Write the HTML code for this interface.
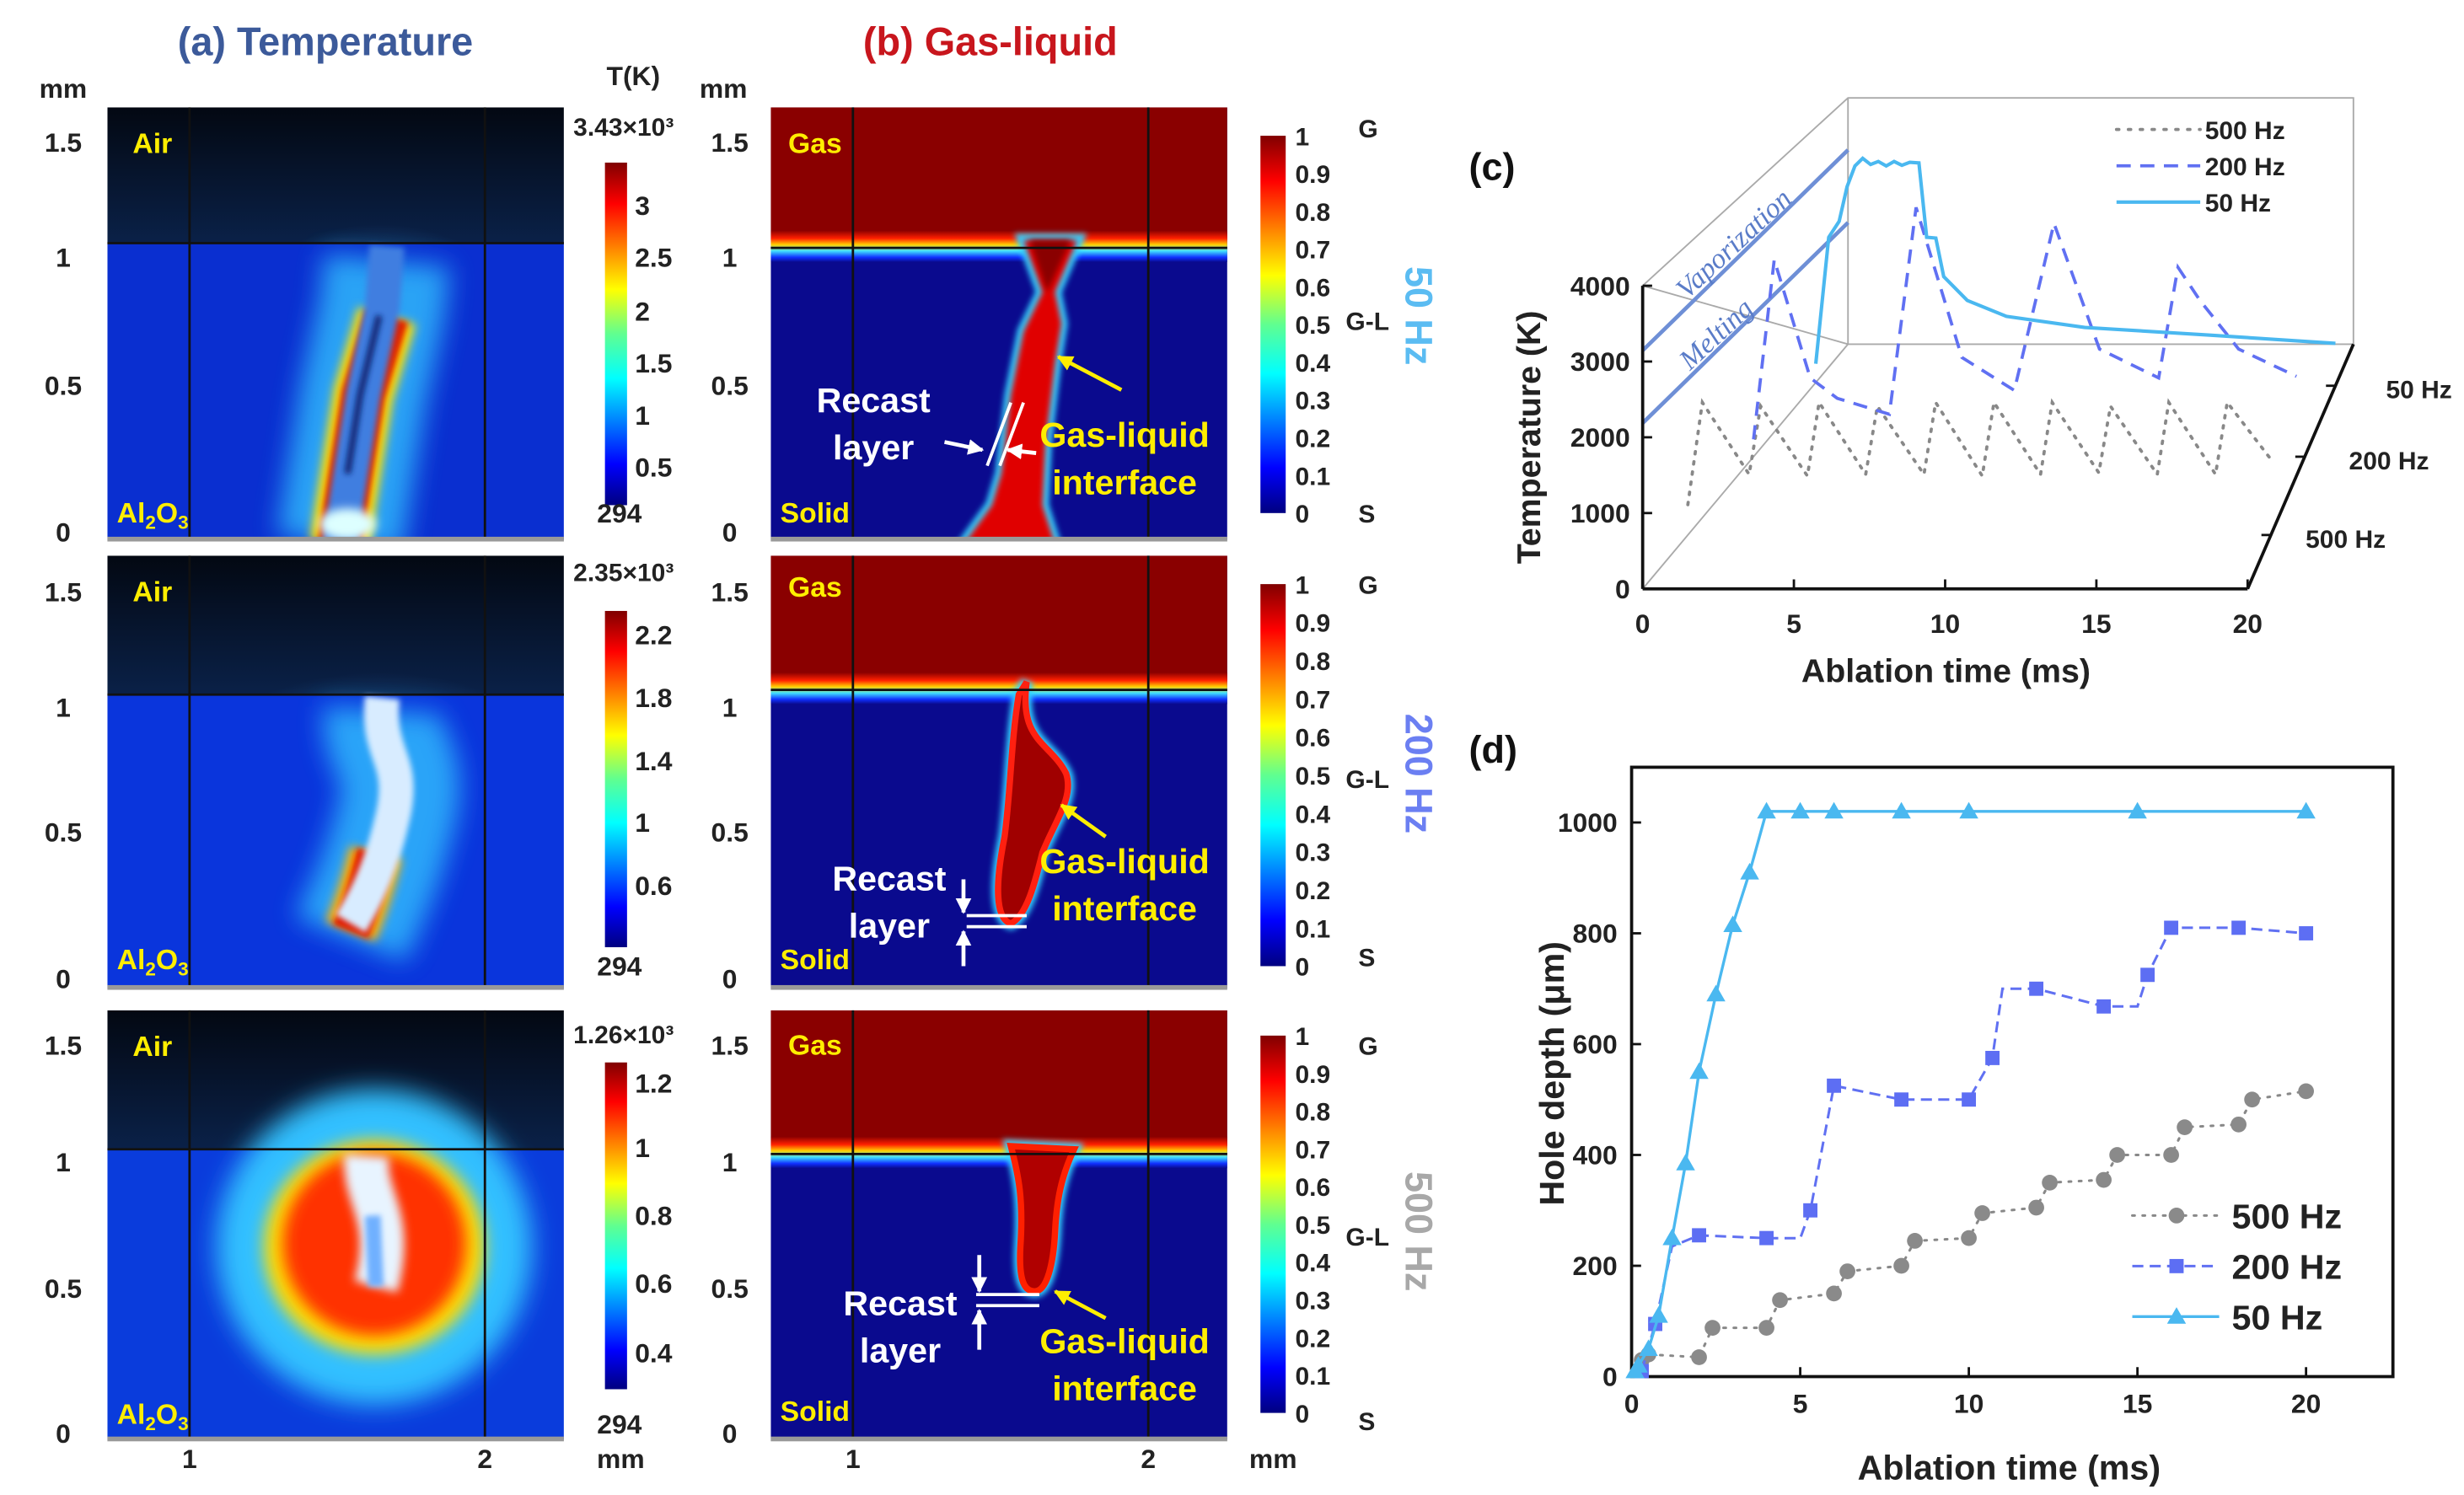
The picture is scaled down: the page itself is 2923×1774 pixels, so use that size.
<!DOCTYPE html>
<html><head><meta charset="utf-8"><style>
html,body{margin:0;padding:0;background:#fff;}
svg{display:block;font-family:"Liberation Sans",sans-serif;}
.b{font-weight:bold}
</style></head><body>
<svg id="fig" width="2923" height="1774" viewBox="0 0 1560 947" preserveAspectRatio="none" xmlns="http://www.w3.org/2000/svg">
<defs>
<linearGradient id="jet" x1="0" y1="0" x2="0" y2="1">
<stop offset="0" stop-color="#800000"/><stop offset="0.12" stop-color="#ff0000"/><stop offset="0.37" stop-color="#ffff00"/><stop offset="0.5" stop-color="#60ff90"/><stop offset="0.63" stop-color="#00ffff"/><stop offset="0.88" stop-color="#0000ff"/><stop offset="1" stop-color="#000080"/>
</linearGradient>
<linearGradient id="iface" x1="0" y1="0" x2="0" y2="1">
<stop offset="0" stop-color="#8a0000"/><stop offset="0.25" stop-color="#ff2000"/><stop offset="0.45" stop-color="#ffd000"/><stop offset="0.65" stop-color="#40e0ff"/><stop offset="0.85" stop-color="#1030ff"/><stop offset="1" stop-color="#0a0a8e"/>
</linearGradient>
<linearGradient id="air" x1="0" y1="0" x2="0" y2="1"><stop offset="0" stop-color="#030812"/><stop offset="1" stop-color="#0a2148"/></linearGradient>
<radialGradient id="airglow" cx="0.5" cy="1" r="0.6"><stop offset="0" stop-color="#3f8fd8" stop-opacity="0.8"/><stop offset="1" stop-color="#3f8fd8" stop-opacity="0"/></radialGradient>
<filter id="bl8" filterUnits="userSpaceOnUse" x="0" y="0" width="1560" height="947"><feGaussianBlur stdDeviation="8"/></filter>
<filter id="bl5" filterUnits="userSpaceOnUse" x="0" y="0" width="1560" height="947"><feGaussianBlur stdDeviation="5"/></filter>
<filter id="bl3" filterUnits="userSpaceOnUse" x="0" y="0" width="1560" height="947"><feGaussianBlur stdDeviation="3"/></filter>
<filter id="bl2" filterUnits="userSpaceOnUse" x="0" y="0" width="1560" height="947"><feGaussianBlur stdDeviation="1.8"/></filter>
<clipPath id="c1"><rect x="68" y="68" width="289" height="274"/></clipPath>
<clipPath id="c2"><rect x="68" y="352" width="289" height="274"/></clipPath>
<clipPath id="c3"><rect x="68" y="640" width="289" height="272"/></clipPath>
<clipPath id="g1"><rect x="488" y="68" width="289" height="274"/></clipPath>
<clipPath id="g2"><rect x="488" y="352" width="289" height="274"/></clipPath>
<clipPath id="g3"><rect x="488" y="640" width="289" height="272"/></clipPath>
<marker id="arw" viewBox="0 0 10 10" refX="9" refY="5" markerWidth="4" markerHeight="4" orient="auto"><path d="M0,0L10,5L0,10z" fill="#fff"/></marker>
<marker id="arwy" viewBox="0 0 10 10" refX="9" refY="5" markerWidth="4" markerHeight="4" orient="auto"><path d="M0,0L10,5L0,10z" fill="#ffee00"/></marker>
</defs>

<text x="206" y="35" text-anchor="middle" font-size="25" class="b" fill="#3c5a9a">(a) Temperature</text>
<text x="627" y="35" text-anchor="middle" font-size="25" class="b" fill="#c8161d">(b) Gas-liquid</text>

<!-- TEMPERATURE MAPS -->
<g clip-path="url(#c1)">
<rect x="68" y="68" width="289" height="86" fill="url(#air)"/>
<ellipse cx="240" cy="154" rx="80" ry="60" fill="url(#airglow)"/>
<rect x="68" y="154" width="289" height="190" fill="#0a2fd0"/>
<path d="M245,165 L242,195 L230,250 L222,300 L215,345" stroke="#30c0ff" stroke-width="80" fill="none" filter="url(#bl8)" opacity="0.8"/>
<path d="M245,200 L230,250 L222,300 L215,345" stroke="#ffe000" stroke-width="38" fill="none" filter="url(#bl3)"/>
<path d="M245,200 L230,250 L222,300 L215,345" stroke="#e02000" stroke-width="28" fill="none" filter="url(#bl2)"/>
<path d="M245,156 L242,195 L230,250 L222,300 L215,345" stroke="#3f7ee0" stroke-width="22" fill="none" filter="url(#bl2)"/>
<path d="M240,200 L228,250 L220,300" stroke="#102070" stroke-width="4" fill="none" filter="url(#bl2)"/>
<ellipse cx="220" cy="332" rx="18" ry="10" fill="#dff" filter="url(#bl3)"/>
</g>
<g clip-path="url(#c2)">
<rect x="68" y="352" width="289" height="88" fill="url(#air)"/>
<ellipse cx="240" cy="440" rx="110" ry="70" fill="url(#airglow)"/>
<rect x="68" y="440" width="289" height="190" fill="#0a35dc"/>
<path d="M242,450 C240,480 262,480 250,520 C240,560 228,580 222,595" stroke="#30c0ff" stroke-width="75" fill="none" filter="url(#bl8)" opacity="0.8"/>
<path d="M238,540 C232,565 226,580 222,590" stroke="#ffb000" stroke-width="34" fill="none" filter="url(#bl3)"/>
<path d="M238,540 C232,565 226,580 222,590" stroke="#e01800" stroke-width="24" fill="none" filter="url(#bl2)"/>
<path d="M242,442 C238,480 258,480 248,520 C240,555 228,575 222,585" stroke="#d8ecff" stroke-width="22" fill="none" filter="url(#bl2)"/>
</g>
<g clip-path="url(#c3)">
<rect x="68" y="640" width="289" height="88" fill="url(#air)"/>
<ellipse cx="240" cy="728" rx="120" ry="80" fill="url(#airglow)"/>
<rect x="68" y="728" width="289" height="190" fill="#0a3cdc"/>
<ellipse cx="237" cy="790" rx="100" ry="100" fill="#30c0ff" filter="url(#bl8)"/>
<ellipse cx="237" cy="790" rx="70" ry="68" fill="#ffe000" filter="url(#bl5)"/>
<ellipse cx="237" cy="788" rx="58" ry="58" fill="#ff3000" filter="url(#bl5)"/>
<path d="M232,732 C230,760 250,770 238,815" stroke="#e8f4ff" stroke-width="28" fill="none" filter="url(#bl3)"/>
<path d="M236,770 L238,815" stroke="#70b0ff" stroke-width="10" fill="none" filter="url(#bl2)"/>
</g>

<!-- GAS-LIQUID MAPS -->
<g clip-path="url(#g1)">
<rect x="488" y="68" width="289" height="290" fill="#0a0a8e"/>
<rect x="488" y="68" width="289" height="84" fill="#8a0000"/>
<rect x="488" y="146" width="289" height="20" fill="url(#iface)"/>
<path d="M648,152 L660,185 L648,210 L640,250 L634,300 L628,320 L610,345 L668,345 L660,320 L662,280 L668,230 L672,205 L668,185 L682,152 Z" fill="#e00000" stroke="#30d0ff" stroke-width="8" filter="url(#bl2)"/>
<path d="M648,152 L660,185 L648,210 L640,250 L634,300 L628,320 L610,345 L668,345 L660,320 L662,280 L668,230 L672,205 L668,185 L682,152 Z" fill="#e00000" filter="url(#bl2)"/>
<path d="M652,152 L663,185 L678,152 Z" fill="#8a0000" filter="url(#bl2)"/>
<line x1="640" y1="255" x2="625" y2="295" stroke="#fff" stroke-width="2"/>
<line x1="648" y1="255" x2="633" y2="295" stroke="#fff" stroke-width="2"/>
</g>
<g clip-path="url(#g2)">
<rect x="488" y="352" width="289" height="280" fill="#0a0a8e"/>
<rect x="488" y="352" width="289" height="80" fill="#8a0000"/>
<rect x="488" y="426" width="289" height="20" fill="url(#iface)"/>
<path d="M650,432 C645,470 665,470 675,490 C680,505 668,520 660,540 C655,560 650,580 640,585 C630,582 630,560 636,530 C640,500 640,470 645,440 Z" fill="#a00000" stroke="#30d0ff" stroke-width="8" filter="url(#bl2)"/>
<path d="M650,432 C645,470 665,470 675,490 C680,505 668,520 660,540 C655,560 650,580 640,585 C630,582 630,560 636,530 C640,500 640,470 645,440 Z" fill="#a00000" stroke="#ff2010" stroke-width="4"/>
</g>
<g clip-path="url(#g3)">
<rect x="488" y="640" width="289" height="280" fill="#0a0a8e"/>
<rect x="488" y="640" width="289" height="86" fill="#8a0000"/>
<rect x="488" y="720" width="289" height="20" fill="url(#iface)"/>
<path d="M640,726 C645,745 648,760 646,790 C645,810 648,818 655,818 C663,818 667,800 668,780 C669,760 672,745 680,728 Z" fill="#b00000" stroke="#30d0ff" stroke-width="8" filter="url(#bl2)"/>
<path d="M640,726 C645,745 648,760 646,790 C645,810 648,818 655,818 C663,818 667,800 668,780 C669,760 672,745 680,728 Z" fill="#b00000" stroke="#ff2000" stroke-width="4"/>
</g>

<g stroke="#111" stroke-width="1.5">
<line x1="120" y1="68" x2="120" y2="342"/><line x1="307" y1="68" x2="307" y2="342"/>
<line x1="120" y1="352" x2="120" y2="626"/><line x1="307" y1="352" x2="307" y2="626"/>
<line x1="120" y1="640" x2="120" y2="912"/><line x1="307" y1="640" x2="307" y2="912"/>
<line x1="540" y1="68" x2="540" y2="342"/><line x1="727" y1="68" x2="727" y2="342"/>
<line x1="540" y1="352" x2="540" y2="626"/><line x1="727" y1="352" x2="727" y2="626"/>
<line x1="540" y1="640" x2="540" y2="912"/><line x1="727" y1="640" x2="727" y2="912"/>
<line x1="68" y1="154" x2="357" y2="154"/><line x1="68" y1="440" x2="357" y2="440"/><line x1="68" y1="728" x2="357" y2="728"/>
<line x1="488" y1="157" x2="777" y2="157"/><line x1="488" y1="437" x2="777" y2="437"/><line x1="488" y1="731" x2="777" y2="731"/>
</g>
<g fill="#999">
<rect x="68" y="340" width="289" height="3"/><rect x="68" y="624" width="289" height="3"/><rect x="68" y="910" width="289" height="3"/>
<rect x="488" y="340" width="289" height="3"/><rect x="488" y="624" width="289" height="3"/><rect x="488" y="910" width="289" height="3"/>
</g>

<g font-size="18" class="b" fill="#ffee00">
<text x="84" y="97">Air</text><text x="84" y="381">Air</text><text x="84" y="669">Air</text>
<text x="74" y="331">Al<tspan font-size="12" dy="4">2</tspan><tspan dy="-4">O</tspan><tspan font-size="12" dy="4">3</tspan></text>
<text x="74" y="614">Al<tspan font-size="12" dy="4">2</tspan><tspan dy="-4">O</tspan><tspan font-size="12" dy="4">3</tspan></text>
<text x="74" y="902">Al<tspan font-size="12" dy="4">2</tspan><tspan dy="-4">O</tspan><tspan font-size="12" dy="4">3</tspan></text>
<text x="499" y="97">Gas</text><text x="499" y="378">Gas</text><text x="499" y="668">Gas</text>
<text x="494" y="331">Solid</text><text x="494" y="614">Solid</text><text x="494" y="900">Solid</text>
</g>

<!-- annotations -->
<g class="b" font-size="22">
<text x="553" y="261" text-anchor="middle" fill="#fff">Recast</text><text x="553" y="291" text-anchor="middle" fill="#fff">layer</text>
<text x="712" y="283" text-anchor="middle" fill="#ffee00">Gas-liquid</text><text x="712" y="313" text-anchor="middle" fill="#ffee00">interface</text>
<line x1="710" y1="247" x2="670" y2="226" stroke="#ffee00" stroke-width="2.5" marker-end="url(#arwy)"/>
<line x1="598" y1="280" x2="622" y2="285" stroke="#fff" stroke-width="2.5" marker-end="url(#arw)"/>
<line x1="656" y1="287" x2="638" y2="285" stroke="#fff" stroke-width="2.5" marker-end="url(#arw)"/>
<text x="563" y="564" text-anchor="middle" fill="#fff">Recast</text><text x="563" y="594" text-anchor="middle" fill="#fff">layer</text>
<text x="712" y="553" text-anchor="middle" fill="#ffee00">Gas-liquid</text><text x="712" y="583" text-anchor="middle" fill="#ffee00">interface</text>
<line x1="700" y1="530" x2="672" y2="510" stroke="#ffee00" stroke-width="2.5" marker-end="url(#arwy)"/>
<line x1="612" y1="580" x2="650" y2="580" stroke="#fff" stroke-width="2"/><line x1="612" y1="587" x2="650" y2="587" stroke="#fff" stroke-width="2"/>
<line x1="610" y1="557" x2="610" y2="578" stroke="#fff" stroke-width="2.5" marker-end="url(#arw)"/>
<line x1="610" y1="612" x2="610" y2="590" stroke="#fff" stroke-width="2.5" marker-end="url(#arw)"/>
<text x="570" y="833" text-anchor="middle" fill="#fff">Recast</text><text x="570" y="863" text-anchor="middle" fill="#fff">layer</text>
<text x="712" y="857" text-anchor="middle" fill="#ffee00">Gas-liquid</text><text x="712" y="887" text-anchor="middle" fill="#ffee00">interface</text>
<line x1="700" y1="835" x2="668" y2="818" stroke="#ffee00" stroke-width="2.5" marker-end="url(#arwy)"/>
<line x1="618" y1="820" x2="658" y2="820" stroke="#fff" stroke-width="2"/><line x1="618" y1="827" x2="658" y2="827" stroke="#fff" stroke-width="2"/>
<line x1="620" y1="795" x2="620" y2="818" stroke="#fff" stroke-width="2.5" marker-end="url(#arw)"/>
<line x1="620" y1="855" x2="620" y2="830" stroke="#fff" stroke-width="2.5" marker-end="url(#arw)"/>
</g>

<!-- axis labels for maps -->
<g font-size="17" class="b" fill="#222" text-anchor="middle">
<text x="40" y="62">mm</text><text x="458" y="62">mm</text>
<text x="40" y="96">1.5</text><text x="40" y="169">1</text><text x="40" y="250">0.5</text><text x="40" y="343">0</text>
<text x="40" y="381">1.5</text><text x="40" y="454">1</text><text x="40" y="533">0.5</text><text x="40" y="626">0</text>
<text x="40" y="668">1.5</text><text x="40" y="742">1</text><text x="40" y="822">0.5</text><text x="40" y="914">0</text>
<text x="462" y="96">1.5</text><text x="462" y="169">1</text><text x="462" y="250">0.5</text><text x="462" y="343">0</text>
<text x="462" y="381">1.5</text><text x="462" y="454">1</text><text x="462" y="533">0.5</text><text x="462" y="626">0</text>
<text x="462" y="668">1.5</text><text x="462" y="742">1</text><text x="462" y="822">0.5</text><text x="462" y="914">0</text>
<text x="120" y="930">1</text><text x="307" y="930">2</text><text x="393" y="930">mm</text>
<text x="540" y="930">1</text><text x="727" y="930">2</text><text x="806" y="930">mm</text>
</g>

<!-- colorbars temperature -->
<g font-size="17" class="b" fill="#222">
<text x="384" y="54">T(K)</text>
<rect x="383" y="103" width="14" height="217" fill="url(#jet)"/>
<text x="363" y="86" font-size="16">3.43×10³</text>
<text x="402" y="136">3</text><text x="402" y="169">2.5</text><text x="402" y="203">2</text><text x="402" y="236">1.5</text><text x="402" y="269">1</text><text x="402" y="302">0.5</text>
<text x="378" y="331">294</text>
<rect x="383" y="387" width="14" height="213" fill="url(#jet)"/>
<text x="363" y="368" font-size="16">2.35×10³</text>
<text x="402" y="408">2.2</text><text x="402" y="448">1.8</text><text x="402" y="488">1.4</text><text x="402" y="527">1</text><text x="402" y="567">0.6</text>
<text x="378" y="618">294</text>
<rect x="383" y="673" width="14" height="207" fill="url(#jet)"/>
<text x="363" y="661" font-size="16">1.26×10³</text>
<text x="402" y="692">1.2</text><text x="402" y="733">1</text><text x="402" y="776">0.8</text><text x="402" y="819">0.6</text><text x="402" y="863">0.4</text>
<text x="378" y="908">294</text>
</g>
<!-- colorbars gas -->
<g font-size="16" class="b" fill="#222">
<rect x="798" y="86" width="16" height="239" fill="url(#jet)"/>
<rect x="798" y="370" width="16" height="242" fill="url(#jet)"/>
<rect x="798" y="656" width="16" height="239" fill="url(#jet)"/>
<g id="gasTicks"></g>
<text x="860" y="87">G</text><text x="852" y="209">G-L</text><text x="860" y="331">S</text>
<text x="860" y="376">G</text><text x="852" y="499">G-L</text><text x="860" y="612">S</text>
<text x="860" y="668">G</text><text x="852" y="789">G-L</text><text x="860" y="906">S</text>
</g>
<g font-size="24" class="b">
<text transform="translate(890,200) rotate(90)" text-anchor="middle" fill="#5bbcf2">50 Hz</text>
<text transform="translate(890,490) rotate(90)" text-anchor="middle" fill="#6b7ff2">200 Hz</text>
<text transform="translate(890,780) rotate(90)" text-anchor="middle" fill="#a8a8a8">500 Hz</text>
</g>

<!-- PANEL C -->
<text x="930" y="114" font-size="24" class="b" fill="#111">(c)</text>
<g id="panelC"></g>
<!-- PANEL D -->
<text x="930" y="483" font-size="24" class="b" fill="#111">(d)</text>
<g id="panelD"></g>
</svg>
<script>
const NS="http://www.w3.org/2000/svg";
function mk(tag,attrs,parent,text){const e=document.createElementNS(NS,tag);for(const k in attrs)e.setAttribute(k,attrs[k]);if(text!==undefined)e.textContent=text;parent.appendChild(e);return e;}

const gasTickLabels=["1","0.9","0.8","0.7","0.6","0.5","0.4","0.3","0.2","0.1","0"];
const gt=document.getElementById('gasTicks');
[[86,325],[370,612],[656,895]].forEach(r=>{gasTickLabels.forEach((l,i)=>{const y=r[0]+(r[1]-r[0])*i/10;const t=mk('text',{x:820,y:y+6},gt,l);

});});

// ===== Panel C data =====
const c_xTicks=[0,5,10,15,20];
const c_yTicks=[0,1000,2000,3000,4000];
const c_freqLabels=["500 Hz","200 Hz","50 Hz"];
const c50_t=[0.1,0.6,1.0,1.3,1.6,1.9,2.2,2.5,2.8,3.1,3.4,3.7,4.05,4.35,4.7,5.0,5.9,7.4,10.4,15.2,20];
const c50_T=[290,1960,2170,2625,2900,3000,2920,2960,2900,2960,2910,2950,2940,1960,1950,1440,1125,915,770,667,560];
const c200_t=[0,0.75,2.06,3.04,4.93,5.9,7.56,9.46,10.9,12.55,14.7,15.4,16.2,17.6,19.7];
const c200_T=[230,2600,1040,770,560,3290,1310,875,3080,1420,1040,2500,2060,1420,1060];
const c500_t=[0,0.5,2.1,2.5,4.1,4.5,6.1,6.5,8.1,8.5,10.1,10.5,12.1,12.5,14.1,14.5,16.1,16.5,18.1,18.5,20];
const c500_T=[400,1750,800,1700,780,1750,800,1700,800,1750,780,1750,800,1750,820,1700,800,1750,800,1750,1000];
const c_depth=[0.22,0.54,0.83];

function cx(t,d){return 1040+130*d+t*(19.15-3.15*d);}
function cy(T,d){return 373-155*d-T*0.048;}
const pc=document.getElementById('panelC');
mk('path',{d:`M1040,181 L1170,62 L1490,62 L1490,218 L1170,218 Z M1170,62 L1170,218 L1040,373`,fill:'none',stroke:'#aaa','stroke-width':1},pc);
mk('line',{x1:1040,y1:222,x2:1170,y2:95,stroke:'#6e8fd6','stroke-width':2.5},pc);
mk('line',{x1:1040,y1:268,x2:1170,y2:141,stroke:'#6e8fd6','stroke-width':2.5},pc);
let vt=mk('text',{transform:'translate(1068,190) rotate(-43)','font-family':'"Liberation Serif",serif','font-style':'italic','font-size':18,fill:'#5a7cc8'},pc,'Vaporization');

let mt=mk('text',{transform:'translate(1070,235) rotate(-43)','font-family':'"Liberation Serif",serif','font-style':'italic','font-size':18,fill:'#5a7cc8'},pc,'Melting');

mk('line',{x1:1040,y1:181,x2:1040,y2:373,stroke:'#111','stroke-width':2},pc);
mk('line',{x1:1040,y1:373,x2:cx(20,0),y2:373,stroke:'#111','stroke-width':2},pc);
mk('line',{x1:cx(20,0),y1:373,x2:1490,y2:218,stroke:'#111','stroke-width':2},pc);
c_yTicks.forEach(v=>{const y=cy(v,0);mk('line',{x1:1040,y1:y,x2:1046,y2:y,stroke:'#111','stroke-width':1.5},pc);
const t=mk('text',{x:1032,y:y+6,'text-anchor':'end','font-size':17,'font-weight':'bold',fill:'#222'},pc,String(v));
});
c_xTicks.forEach(v=>{const x=cx(v,0);mk('line',{x1:x,y1:373,x2:x,y2:367,stroke:'#111','stroke-width':1.5},pc);
const t=mk('text',{x:x,y:401,'text-anchor':'middle','font-size':17,'font-weight':'bold',fill:'#222'},pc,String(v));
});
c_freqLabels.forEach((l,i)=>{const d=c_depth[i];const x=cx(20,0)+(1490-cx(20,0))*d, y=373-155*d;
mk('line',{x1:x,y1:y,x2:x-6,y2:y,stroke:'#111','stroke-width':1.5},pc);
const t=mk('text',{x:x+(i==0?22:i==1?28:32),y:y+8,'font-size':16,'font-weight':'bold',fill:'#222'},pc,l);
});
let ya=mk('text',{transform:'translate(975,277) rotate(-90)','text-anchor':'middle','font-size':21,'font-weight':'bold',fill:'#222'},pc,'Temperature (K)');

let xa=mk('text',{x:1232,y:432,'text-anchor':'middle','font-size':21,'font-weight':'bold',fill:'#222'},pc,'Ablation time (ms)');

function cline(ts,Ts,d,style,name){const p=ts.map((t,i)=>`${i?'L':'M'}${cx(t,d).toFixed(1)},${cy(Ts[i],d).toFixed(1)}`).join(' ');
const e=mk('path',Object.assign({d:p,fill:'none'},style),pc);}
cline(c500_t,c500_T,c_depth[0],{stroke:'#888','stroke-width':2,'stroke-dasharray':'1.5 5','stroke-linecap':'round'},'series-500hz-temperature');
cline(c200_t,c200_T,c_depth[1],{stroke:'#6070f2','stroke-width':2,'stroke-dasharray':'9 6'},'series-200hz-temperature');
cline(c50_t,c50_T,c_depth[2],{stroke:'#4ab8f0','stroke-width':2.2},'series-50hz-temperature');
[["500 Hz",{stroke:'#888','stroke-width':2,'stroke-dasharray':'1.5 6','stroke-linecap':'round'}],["200 Hz",{stroke:'#6070f2','stroke-width':2,'stroke-dasharray':'9 6'}],["50 Hz",{stroke:'#4ab8f0','stroke-width':2.2}]].forEach((e,i)=>{
const y=82+i*23;mk('line',Object.assign({x1:1340,y1:y,x2:1393,y2:y},e[1]),pc);
const t=mk('text',{x:1396,y:y+6,'font-size':16,'font-weight':'bold',fill:'#222'},pc,e[0]);
});

// ===== Panel D data =====
const d_xTicks=[0,5,10,15,20];
const d_yTicks=[0,200,400,600,800,1000];
const d50_t=[0.1,0.2,0.5,0.8,1.2,1.6,2,2.5,3,3.5,4,5,6,8,10,15,20];
const d50_v=[10,20,50,110,250,385,550,690,815,910,1020,1020,1020,1020,1020,1020,1020];
const d200_t=[0.3,0.7,1.2,2,4,5,5.3,6,8,10,10.7,11,12,14,15,15.3,16,18,20];
const d200_v=[10,95,235,255,250,250,300,525,500,500,575,700,700,668,668,725,810,810,800];
const d200_mark=[1,1,0,1,1,0,1,1,1,1,1,0,1,1,0,1,1,1,1];
const d500_t=[0.3,0.5,2,2.4,4,4.4,6,6.4,8,8.4,10,10.4,12,12.4,14,14.4,16,16.4,18,18.4,20];
const d500_v=[30,40,35,88,88,138,150,190,200,245,250,295,305,350,355,400,400,450,455,500,515];
const dx=t=>1033+t*21.35, dy=v=>872-v*0.351;
const pd=document.getElementById('panelD');
mk('rect',{x:1033,y:486,width:482,height:386,fill:'none',stroke:'#111','stroke-width':2},pd);
d_yTicks.forEach(v=>{const y=dy(v);mk('line',{x1:1033,y1:y,x2:1039,y2:y,stroke:'#111','stroke-width':1.5},pd);
const t=mk('text',{x:1024,y:y+6,'text-anchor':'end','font-size':17,'font-weight':'bold',fill:'#222'},pd,String(v));
});
d_xTicks.forEach(v=>{const x=dx(v);mk('line',{x1:x,y1:872,x2:x,y2:866,stroke:'#111','stroke-width':1.5},pd);
const t=mk('text',{x:x,y:895,'text-anchor':'middle','font-size':17,'font-weight':'bold',fill:'#222'},pd,String(v));
});
let yd=mk('text',{transform:'translate(990,680) rotate(-90)','text-anchor':'middle','font-size':22,'font-weight':'bold',fill:'#222'},pd,'Hole depth (μm)');

let xd=mk('text',{x:1272,y:937,'text-anchor':'middle','font-size':22,'font-weight':'bold',fill:'#222'},pd,'Ablation time (ms)');

function marker(kind,x,y,col,g){
 if(kind==='c')return mk('circle',{cx:x,cy:y,r:5,fill:col},g);
 if(kind==='s')return mk('rect',{x:x-4.5,y:y-4.5,width:9,height:9,fill:col},g);
 return mk('path',{d:`M${x},${y-6}L${x+6},${y+4.5}L${x-6},${y+4.5}Z`,fill:col},g);}
function dseries(ts,vs,marks,style,kind,col,name){
 const g=mk('g',{},pd);
 mk('path',Object.assign({d:ts.map((t,i)=>`${i?'L':'M'}${dx(t).toFixed(1)},${dy(vs[i]).toFixed(1)}`).join(' '),fill:'none'},style),g);
 ts.forEach((t,i)=>{if(!marks||marks[i]){const m=marker(kind,dx(t),dy(vs[i]),col,g);}});}
dseries(d500_t,d500_v,null,{stroke:'#888','stroke-width':1.6,'stroke-dasharray':'1.5 5','stroke-linecap':'round'},'c','#8a8a8a','series-500hz-depth');
dseries(d200_t,d200_v,d200_mark,{stroke:'#6070f2','stroke-width':1.6,'stroke-dasharray':'7 4'},'s','#5d6ef3','series-200hz-depth');
dseries(d50_t,d50_v,null,{stroke:'#4ab8f0','stroke-width':1.8},'t','#4ab8f0','series-50hz-depth');
[["500 Hz",{stroke:'#888','stroke-width':1.6,'stroke-dasharray':'1.5 5','stroke-linecap':'round'},'c','#8a8a8a'],["200 Hz",{stroke:'#6070f2','stroke-width':1.6,'stroke-dasharray':'7 4'},'s','#5d6ef3'],["50 Hz",{stroke:'#4ab8f0','stroke-width':1.8},'t','#4ab8f0']].forEach((e,i)=>{
 const y=770+i*32;mk('line',Object.assign({x1:1350,y1:y,x2:1405,y2:y},e[1]),pd);marker(e[2],1378,y,e[3],pd);
 const t=mk('text',{x:1413,y:y+8,'font-size':22,'font-weight':'bold',fill:'#222'},pd,e[0]);
 });
</script>
</body></html>
